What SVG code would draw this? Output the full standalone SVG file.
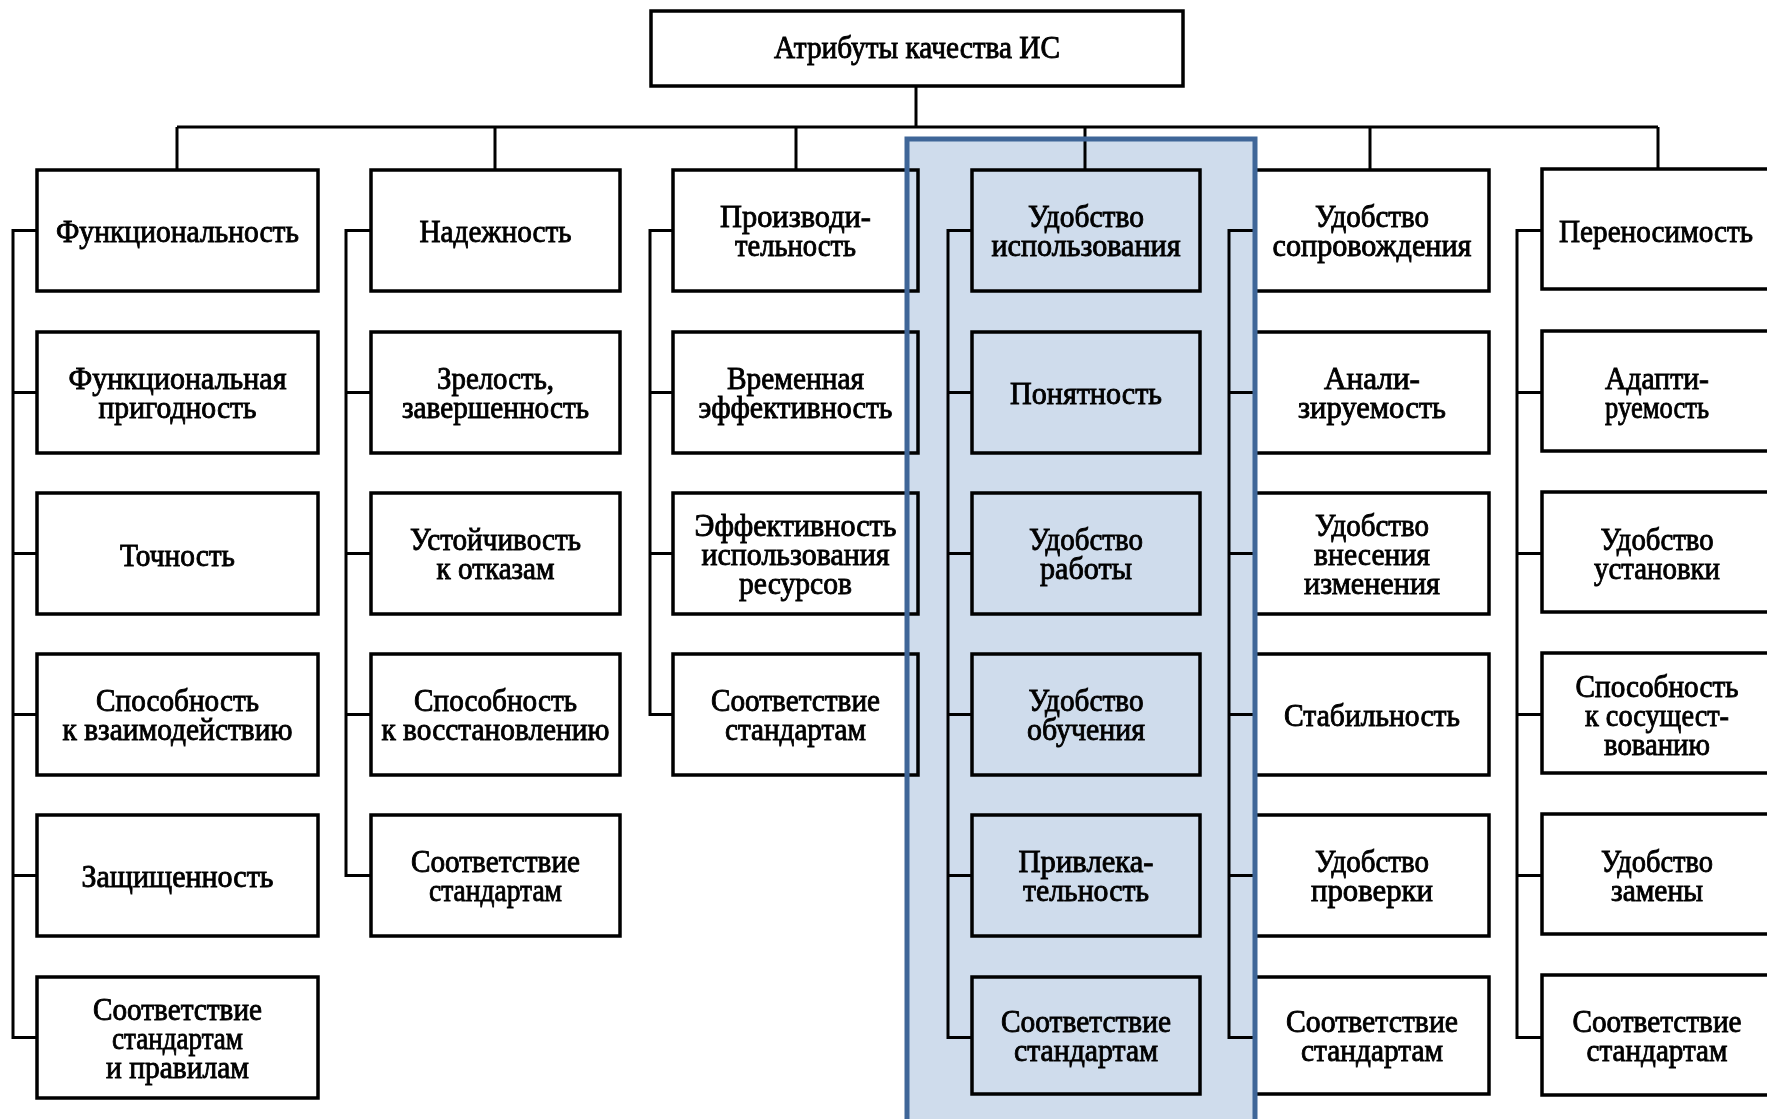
<svg xmlns="http://www.w3.org/2000/svg" width="1767" height="1119" viewBox="0 0 1767 1119">
  <style>
    .box { fill: #ffffff; stroke: #000000; stroke-width: 3.5; }
    .conn { fill: none; stroke: #000000; stroke-width: 3; stroke-linejoin: miter; }
    .lbl { font-family: "Liberation Serif", "Times New Roman", serif; font-size: 32px; fill: #000000; stroke: #000000; stroke-width: 0.9; text-anchor: middle; }
    .hl-fill { fill: #cfdcec; mix-blend-mode: multiply; }
    .hl-border { fill: none; stroke: #3f6698; stroke-width: 5; }
  </style>

  <rect x="0" y="0" width="1767" height="1119" fill="#ffffff"/>

  <!-- connectors: root to bus, bus to column heads, side brackets -->
  <g id="connectors" class="conn">
    <path d="M916 86 V127"/>
    <path d="M177 127 H1658"/>
    <path d="M177 127 V170 M495 127 V170 M796 127 V170 M1085 127 V170 M1370 127 V170 M1658 127 V170"/>
    <!-- Функциональность -->
    <path d="M37 230.5 H13 V1037.5 H37 M13 392.5 H37 M13 553.5 H37 M13 714.5 H37 M13 875.5 H37"/>
    <!-- Надежность -->
    <path d="M371 230.5 H346 V875.5 H371 M346 392.5 H371 M346 553.5 H371 M346 714.5 H371"/>
    <!-- Производительность -->
    <path d="M673 230.5 H650 V714.5 H673 M650 392.5 H673 M650 553.5 H673"/>
    <!-- Удобство использования -->
    <path d="M972 230.5 H948 V1037.5 H972 M948 392.5 H972 M948 553.5 H972 M948 714.5 H972 M948 875.5 H972"/>
    <!-- Удобство сопровождения -->
    <path d="M1255 230.5 H1229 V1037.5 H1255 M1229 392.5 H1255 M1229 553.5 H1255 M1229 714.5 H1255 M1229 875.5 H1255"/>
    <!-- Переносимость -->
    <path d="M1542 230.5 H1517 V1037.5 H1542 M1517 392.5 H1542 M1517 553.5 H1542 M1517 714.5 H1542 M1517 875.5 H1542"/>
  </g>

  <!-- root -->
  <g id="root">
    <rect class="box" x="651" y="11" width="532" height="75"/>
    <text class="lbl" x="917" y="58" textLength="286" lengthAdjust="spacingAndGlyphs">Атрибуты качества ИС</text>
  </g>

  <!-- column 1 -->
  <g id="c1r1"><rect class="box" x="37" y="170" width="281" height="121"/>
    <text class="lbl" x="177.5" y="241.5" textLength="243" lengthAdjust="spacingAndGlyphs">Функциональность</text></g>
  <g id="c1r2"><rect class="box" x="37" y="332" width="281" height="121"/>
    <text class="lbl" x="177.5" y="389" textLength="218" lengthAdjust="spacingAndGlyphs">Функциональная</text>
    <text class="lbl" x="177.5" y="418" textLength="158" lengthAdjust="spacingAndGlyphs">пригодность</text></g>
  <g id="c1r3"><rect class="box" x="37" y="493" width="281" height="121"/>
    <text class="lbl" x="177.5" y="565.5" textLength="115" lengthAdjust="spacingAndGlyphs">Точность</text></g>
  <g id="c1r4"><rect class="box" x="37" y="654" width="281" height="121"/>
    <text class="lbl" x="177.5" y="711" textLength="163" lengthAdjust="spacingAndGlyphs">Способность</text>
    <text class="lbl" x="177.5" y="740" textLength="230" lengthAdjust="spacingAndGlyphs">к взаимодействию</text></g>
  <g id="c1r5"><rect class="box" x="37" y="815" width="281" height="121"/>
    <text class="lbl" x="177.5" y="886.5" textLength="192" lengthAdjust="spacingAndGlyphs">Защищенность</text></g>
  <g id="c1r6"><rect class="box" x="37" y="977" width="281" height="121"/>
    <text class="lbl" x="177.5" y="1019.5" textLength="169" lengthAdjust="spacingAndGlyphs">Соответствие</text>
    <text class="lbl" x="177.5" y="1048.5" textLength="131" lengthAdjust="spacingAndGlyphs">стандартам</text>
    <text class="lbl" x="177.5" y="1077.5" textLength="143" lengthAdjust="spacingAndGlyphs">и правилам</text></g>

  <!-- column 2 -->
  <g id="c2r1"><rect class="box" x="371" y="170" width="249" height="121"/>
    <text class="lbl" x="495.5" y="241.5" textLength="152" lengthAdjust="spacingAndGlyphs">Надежность</text></g>
  <g id="c2r2"><rect class="box" x="371" y="332" width="249" height="121"/>
    <text class="lbl" x="495.5" y="389" textLength="117" lengthAdjust="spacingAndGlyphs">Зрелость,</text>
    <text class="lbl" x="495.5" y="418" textLength="187" lengthAdjust="spacingAndGlyphs">завершенность</text></g>
  <g id="c2r3"><rect class="box" x="371" y="493" width="249" height="121"/>
    <text class="lbl" x="495.5" y="550" textLength="171" lengthAdjust="spacingAndGlyphs">Устойчивость</text>
    <text class="lbl" x="495.5" y="579" textLength="118" lengthAdjust="spacingAndGlyphs">к отказам</text></g>
  <g id="c2r4"><rect class="box" x="371" y="654" width="249" height="121"/>
    <text class="lbl" x="495.5" y="711" textLength="163" lengthAdjust="spacingAndGlyphs">Способность</text>
    <text class="lbl" x="495.5" y="740" textLength="228" lengthAdjust="spacingAndGlyphs">к восстановлению</text></g>
  <g id="c2r5"><rect class="box" x="371" y="815" width="249" height="121"/>
    <text class="lbl" x="495.5" y="872" textLength="169" lengthAdjust="spacingAndGlyphs">Соответствие</text>
    <text class="lbl" x="495.5" y="901" textLength="133" lengthAdjust="spacingAndGlyphs">стандартам</text></g>

  <!-- column 3 -->
  <g id="c3r1"><rect class="box" x="673" y="170" width="245" height="121"/>
    <text class="lbl" x="795.5" y="227" textLength="151" lengthAdjust="spacingAndGlyphs">Производи-</text>
    <text class="lbl" x="795.5" y="256" textLength="121" lengthAdjust="spacingAndGlyphs">тельность</text></g>
  <g id="c3r2"><rect class="box" x="673" y="332" width="245" height="121"/>
    <text class="lbl" x="795.5" y="389" textLength="137" lengthAdjust="spacingAndGlyphs">Временная</text>
    <text class="lbl" x="795.5" y="418" textLength="194" lengthAdjust="spacingAndGlyphs">эффективность</text></g>
  <g id="c3r3"><rect class="box" x="673" y="493" width="245" height="121"/>
    <text class="lbl" x="795.5" y="535.5" textLength="202" lengthAdjust="spacingAndGlyphs">Эффективность</text>
    <text class="lbl" x="795.5" y="564.5" textLength="188" lengthAdjust="spacingAndGlyphs">использования</text>
    <text class="lbl" x="795.5" y="593.5" textLength="113" lengthAdjust="spacingAndGlyphs">ресурсов</text></g>
  <g id="c3r4"><rect class="box" x="673" y="654" width="245" height="121"/>
    <text class="lbl" x="795.5" y="711" textLength="169" lengthAdjust="spacingAndGlyphs">Соответствие</text>
    <text class="lbl" x="795.5" y="740" textLength="141" lengthAdjust="spacingAndGlyphs">стандартам</text></g>

  <!-- column 4 -->
  <g id="c4r1"><rect class="box" x="972" y="170" width="228" height="121"/>
    <text class="lbl" x="1086" y="227" textLength="116" lengthAdjust="spacingAndGlyphs">Удобство</text>
    <text class="lbl" x="1086" y="256" textLength="189" lengthAdjust="spacingAndGlyphs">использования</text></g>
  <g id="c4r2"><rect class="box" x="972" y="332" width="228" height="121"/>
    <text class="lbl" x="1086" y="403.5" textLength="152" lengthAdjust="spacingAndGlyphs">Понятность</text></g>
  <g id="c4r3"><rect class="box" x="972" y="493" width="228" height="121"/>
    <text class="lbl" x="1086" y="550" textLength="114" lengthAdjust="spacingAndGlyphs">Удобство</text>
    <text class="lbl" x="1086" y="579" textLength="92" lengthAdjust="spacingAndGlyphs">работы</text></g>
  <g id="c4r4"><rect class="box" x="972" y="654" width="228" height="121"/>
    <text class="lbl" x="1086" y="711" textLength="115" lengthAdjust="spacingAndGlyphs">Удобство</text>
    <text class="lbl" x="1086" y="740" textLength="118" lengthAdjust="spacingAndGlyphs">обучения</text></g>
  <g id="c4r5"><rect class="box" x="972" y="815" width="228" height="121"/>
    <text class="lbl" x="1086" y="872" textLength="135" lengthAdjust="spacingAndGlyphs">Привлека-</text>
    <text class="lbl" x="1086" y="901" textLength="126" lengthAdjust="spacingAndGlyphs">тельность</text></g>
  <g id="c4r6"><rect class="box" x="972" y="977" width="228" height="117"/>
    <text class="lbl" x="1086" y="1032" textLength="170" lengthAdjust="spacingAndGlyphs">Соответствие</text>
    <text class="lbl" x="1086" y="1061" textLength="144" lengthAdjust="spacingAndGlyphs">стандартам</text></g>

  <!-- column 5 -->
  <g id="c5r1"><rect class="box" x="1255" y="170" width="234" height="121"/>
    <text class="lbl" x="1372" y="227" textLength="114" lengthAdjust="spacingAndGlyphs">Удобство</text>
    <text class="lbl" x="1372" y="256" textLength="199" lengthAdjust="spacingAndGlyphs">сопровождения</text></g>
  <g id="c5r2"><rect class="box" x="1255" y="332" width="234" height="121"/>
    <text class="lbl" x="1372" y="389" textLength="96" lengthAdjust="spacingAndGlyphs">Анали-</text>
    <text class="lbl" x="1372" y="418" textLength="148" lengthAdjust="spacingAndGlyphs">зируемость</text></g>
  <g id="c5r3"><rect class="box" x="1255" y="493" width="234" height="121"/>
    <text class="lbl" x="1372" y="535.5" textLength="114" lengthAdjust="spacingAndGlyphs">Удобство</text>
    <text class="lbl" x="1372" y="564.5" textLength="116" lengthAdjust="spacingAndGlyphs">внесения</text>
    <text class="lbl" x="1372" y="593.5" textLength="136" lengthAdjust="spacingAndGlyphs">изменения</text></g>
  <g id="c5r4"><rect class="box" x="1255" y="654" width="234" height="121"/>
    <text class="lbl" x="1372" y="725.5" textLength="176" lengthAdjust="spacingAndGlyphs">Стабильность</text></g>
  <g id="c5r5"><rect class="box" x="1255" y="815" width="234" height="121"/>
    <text class="lbl" x="1372" y="872" textLength="114" lengthAdjust="spacingAndGlyphs">Удобство</text>
    <text class="lbl" x="1372" y="901" textLength="122" lengthAdjust="spacingAndGlyphs">проверки</text></g>
  <g id="c5r6"><rect class="box" x="1255" y="977" width="234" height="117"/>
    <text class="lbl" x="1372" y="1032" textLength="172" lengthAdjust="spacingAndGlyphs">Соответствие</text>
    <text class="lbl" x="1372" y="1061" textLength="142" lengthAdjust="spacingAndGlyphs">стандартам</text></g>

  <!-- column 6 (runs past the right edge) -->
  <g id="c6r1"><rect class="box" x="1542" y="169" width="240" height="120"/>
    <text class="lbl" x="1656" y="241.5" textLength="194" lengthAdjust="spacingAndGlyphs">Переносимость</text></g>
  <g id="c6r2"><rect class="box" x="1542" y="331" width="240" height="120"/>
    <text class="lbl" x="1657" y="389" textLength="104" lengthAdjust="spacingAndGlyphs">Адапти-</text>
    <text class="lbl" x="1657" y="418" textLength="104" lengthAdjust="spacingAndGlyphs">руемость</text></g>
  <g id="c6r3"><rect class="box" x="1542" y="492" width="240" height="120"/>
    <text class="lbl" x="1657" y="550" textLength="113" lengthAdjust="spacingAndGlyphs">Удобство</text>
    <text class="lbl" x="1657" y="579" textLength="126" lengthAdjust="spacingAndGlyphs">установки</text></g>
  <g id="c6r4"><rect class="box" x="1542" y="653" width="240" height="120"/>
    <text class="lbl" x="1657" y="696.5" textLength="163" lengthAdjust="spacingAndGlyphs">Способность</text>
    <text class="lbl" x="1657" y="725.5" textLength="144" lengthAdjust="spacingAndGlyphs">к сосущест-</text>
    <text class="lbl" x="1657" y="754.5" textLength="106" lengthAdjust="spacingAndGlyphs">вованию</text></g>
  <g id="c6r5"><rect class="box" x="1542" y="814" width="240" height="120"/>
    <text class="lbl" x="1657" y="872" textLength="112" lengthAdjust="spacingAndGlyphs">Удобство</text>
    <text class="lbl" x="1657" y="901" textLength="92" lengthAdjust="spacingAndGlyphs">замены</text></g>
  <g id="c6r6"><rect class="box" x="1542" y="975" width="240" height="120"/>
    <text class="lbl" x="1657" y="1032" textLength="169" lengthAdjust="spacingAndGlyphs">Соответствие</text>
    <text class="lbl" x="1657" y="1061" textLength="141" lengthAdjust="spacingAndGlyphs">стандартам</text></g>

  <!-- tinted band over the usability column -->
  <g id="highlight">
    <rect class="hl-fill" x="907" y="139" width="348" height="1000"/>
    <path class="hl-border" d="M907 1125 V139 H1255 V1125"/>
  </g>
</svg>
